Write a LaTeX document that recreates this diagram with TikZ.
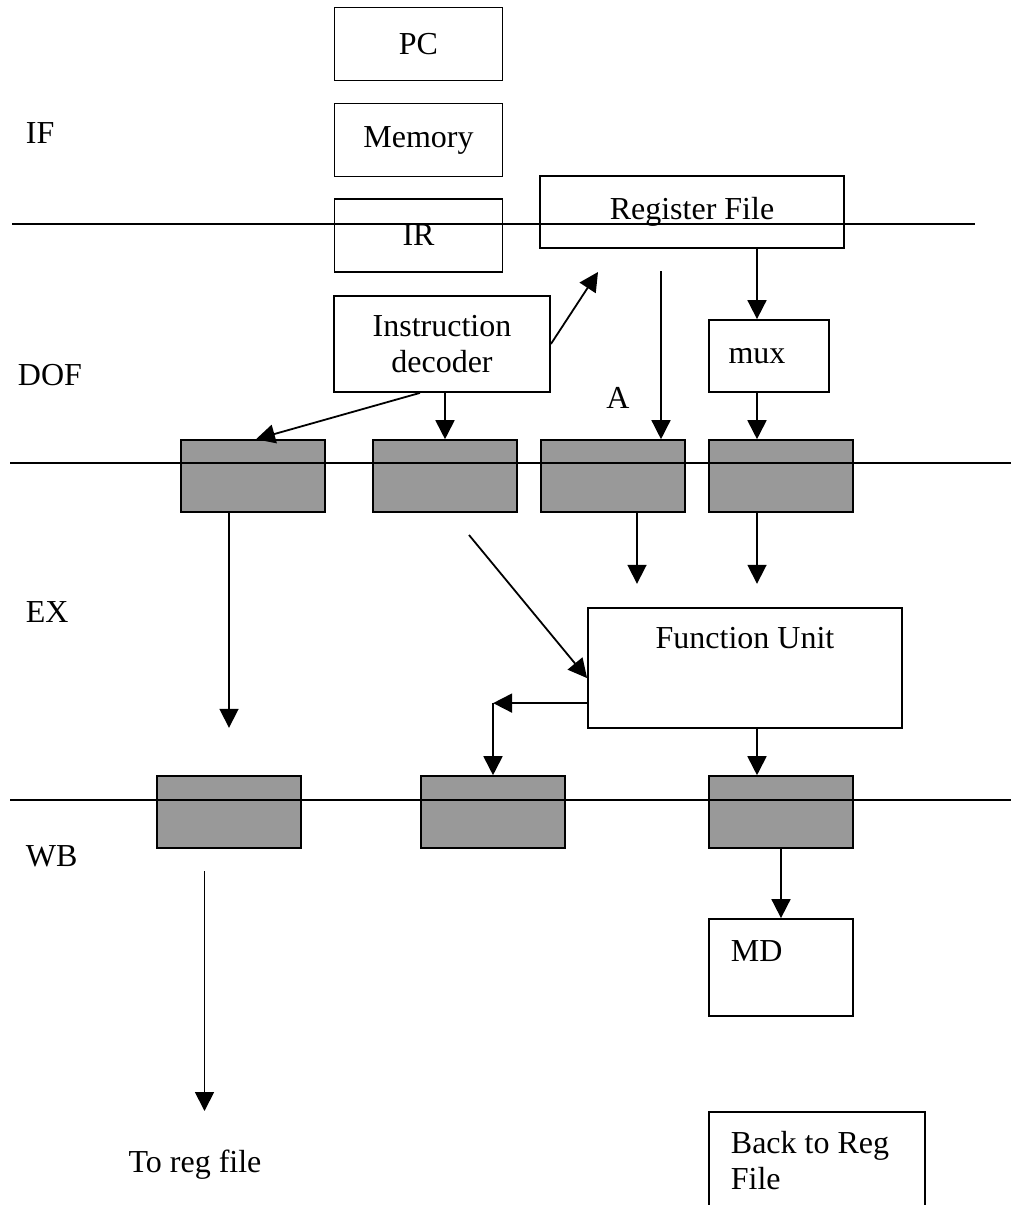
\documentclass[tikz,border=0pt]{standalone}
\usepackage{fontspec}
\setmainfont{Liberation Serif}
\usetikzlibrary{arrows.meta,positioning}
\definecolor{latchgray}{RGB}{153,153,153}

\begin{document}
\begin{tikzpicture}[x=1pt,y=-1pt, line width=1.8pt,
  font=\fontsize{32}{36}\selectfont,
  box/.style={draw, rectangle, inner sep=0pt},
  latch/.style={draw, fill=latchgray, line width=1.6pt, minimum width=144pt, minimum height=72pt},
  arrow/.style={-{Triangle[length=19pt,width=19pt]}},
  stage/.style={anchor=west, inner sep=0pt}]
  \useasboundingbox (0,0) rectangle (1011,1205);

  % Fetch stage
  \node[box, minimum width=168pt, minimum height=73pt] (pc) at (418.5,44) {PC};
  \node[box, minimum width=168pt, minimum height=73pt] (mem) at (418.5,140) {Memory};
  \node[box, minimum width=168pt, minimum height=73pt] (ir) at (418.5,235.5) {IR};

  % Decode stage
  \node[box, minimum width=304pt, minimum height=72pt] (regfile) at (692,212) {Register File};
  \node[box, minimum width=216pt, minimum height=96pt, align=center] (decoder) at (442,344) {Instruction\\decoder};
  \node[box, minimum width=120pt, minimum height=72pt] (mux) at (769,356) {};
  \node (muxtext) at ([xshift=-12pt]mux.center) {mux};
  \node (alabel) at (618,398) {A};

  % Pipeline latches
  \node[latch] (l1) at (253,476) {};
  \node[latch] (l2) at (445,476) {};
  \node[latch] (l3) at (613,476) {};
  \node[latch] (l4) at (781,476) {};
  \node[latch] (w1) at (229,812) {};
  \node[latch] (w2) at (493,812) {};
  \node[latch] (w3) at (781,812) {};

  % Execute and write back
  \node[box, minimum width=314pt, minimum height=120pt] (fu) at (745,668) {};
  \node (futext) at (745,638) {Function Unit};
  \node[box, minimum width=144pt, minimum height=97pt] (md) at (781,967.5) {};
  \node[anchor=west, inner sep=0pt] (mdtext) at (730,951) {MD};
  \node[box, minimum width=216pt, minimum height=130pt] (back) at (817,1177) {};
  \node[anchor=north west, inner sep=0pt, align=left] (backtext) at (730,1130) {Back to Reg\\File};
  \node (toreg) at (195,1165) {To reg file};

  % Stage names
  \node[stage] (ifname) at (25,133) {IF};
  \node[stage] (dofname) at (17,375) {DOF};
  \node[stage] (exname) at (25,612) {EX};
  \node[stage] (wbname) at (25,856) {WB};

  % Free ends
  \coordinate (rfin) at (598,272);
  \coordinate (ain) at (661,271);
  \coordinate (diag) at (469,535);
  \coordinate (wbtop) at (204.5,871);

  % Connectors
  \draw[arrow] (decoder.east) -- (rfin);
  \draw[arrow] ([xshift=-12pt]mux.north |- regfile.south) -- ([xshift=-12pt]mux.north);
  \draw[arrow] ([xshift=-12pt]mux.south) -- ([xshift=-12pt]mux.south |- l4.north);
  \draw[arrow, line width=1.4pt] (ain) -- (ain |- l3.north);
  \draw[arrow] ([xshift=-22pt]decoder.south) -- ([xshift=3pt]l1.north);
  \draw[arrow] (l2.north |- decoder.south) -- (l2.north);
  \draw[arrow] ([xshift=-24pt]l1.south) -- ++(0,215);
  \draw[arrow] ([xshift=24pt]l3.south) -- ++(0,71);
  \draw[arrow] ([xshift=-24pt]l4.south) -- ++(0,71);
  \draw[arrow] (diag) -- ([shift={(0,71)}]fu.north west);
  \draw[arrow] ([shift={(0,96)}]fu.north west) -- ++(-94,0);
  \draw[arrow] ([shift={(0,-72)}]w2.north) -- (w2.north);
  \draw[arrow] ([xshift=-24pt]w3.north |- fu.south) -- ([xshift=-24pt]w3.north);
  \draw[arrow] (w3.south) -- (md.north);
  \draw[arrow] (wbtop) -- ++(0,240);

  % Stage boundaries
  \draw (12,224) -- (975,224);
  \draw (10,463) -- (1011,463);
  \draw (10,800) -- (1011,800);
\end{tikzpicture}
\end{document}
